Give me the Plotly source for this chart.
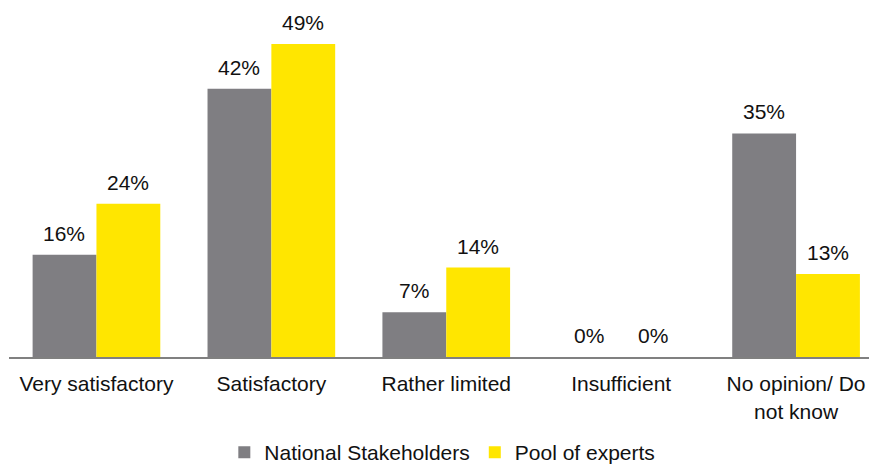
import plotly.graph_objects as go

categories = ["Very satisfactory", "Satisfactory", "Rather limited", "Insufficient", "No opinion/ Do<br>not know"]
national = [16, 42, 7, 0, 35]
experts = [24, 49, 14, 0, 13]
series_names = ["National Stakeholders", "Pool of experts"]
colors = ["#7F7E82", "#FFE600"]

fig = go.Figure()
for name, vals, col in zip(series_names, [national, experts], colors):
    fig.add_trace(go.Bar(x=categories, y=vals, name=name, marker=dict(color=col, line=dict(width=0))))

annotations = []
for vals, shift in [(national, -32), (experts, 32)]:
    for c, v in zip(categories, vals):
        annotations.append(dict(x=c, y=v, xref="x", yref="y", text=f"{v}%", showarrow=False,
                                xshift=shift, yshift=8, yanchor="bottom",
                                font=dict(size=21, color="#111111")))

fig.update_layout(
    width=869, height=467,
    margin=dict(l=9, r=0, t=0, b=110),
    paper_bgcolor="white", plot_bgcolor="white",
    barmode="group", bargap=0.27, bargroupgap=0,
    font=dict(family="Liberation Sans, Arial, sans-serif", size=21, color="#111111"),
    xaxis=dict(range=[-0.5, 4.417], showline=True, linecolor="#808080", linewidth=2,
               ticks="", showgrid=False, automargin=False, ticklabelstandoff=7,
               tickfont=dict(size=21, color="#111111")),
    yaxis=dict(range=[0, 55.9], visible=False, showgrid=False),
    legend=dict(orientation="h", x=0.509, xanchor="center", xref="container",
                y=0.075, yanchor="top", yref="container",
                font=dict(size=21, color="#111111"), itemwidth=30, traceorder="normal"),
    annotations=annotations,
    showlegend=True,
)
fig.write_html("out.html", config={"displayModeBar": False},
               post_script="document.body.style.margin='0';")
